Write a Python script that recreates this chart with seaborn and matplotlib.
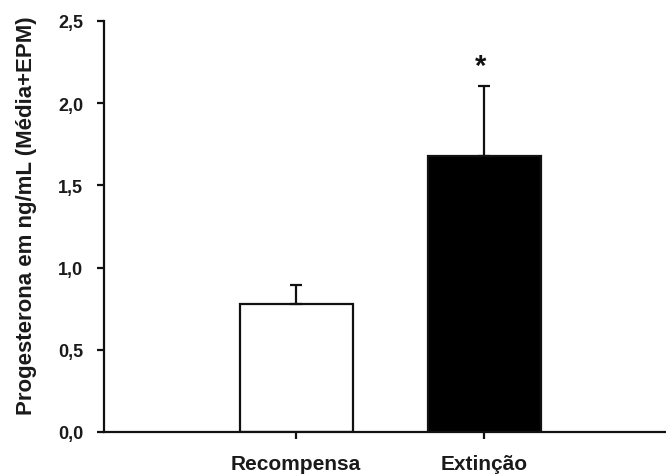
import matplotlib
matplotlib.use("Agg")
import matplotlib.pyplot as plt
import seaborn as sns
import pandas as pd

# Group means and standard errors (ng/mL)
grupos = ["Recompensa", "Extinção"]
medias = [0.78, 1.68]
epm = [0.115, 0.425]
cores = ["white", "black"]
y_ticks = [0.0, 0.5, 1.0, 1.5, 2.0, 2.5]
y_tick_labels = ["0,0", "0,5", "1,0", "1,5", "2,0", "2,5"]

sns.set_theme(style="ticks")
plt.rcParams["font.family"] = ["Liberation Sans", "DejaVu Sans"]

df = pd.DataFrame({"grupo": grupos, "media": medias})

fig = plt.figure(figsize=(6.66, 4.77), dpi=100)
ax = fig.add_axes([104 / 666, 44 / 477, 1 - 104 / 666, 411 / 477])

sns.barplot(data=df, x="grupo", y="media", hue="grupo", palette=cores,
            width=0.6, edgecolor="#111111", linewidth=1.6, legend=False,
            errorbar=None, ax=ax)

# upward-only error bars (mean + SEM)
ax.errorbar(range(len(grupos)), medias, yerr=[[0] * len(epm), epm],
            fmt="none", ecolor="#111111", elinewidth=1.6, capsize=4.5,
            capthick=1.6, zorder=3)

# significance marker over the second group
ax.text(0.98, medias[1] + epm[1] + 0.12, "*", ha="center", va="center",
        fontsize=21, fontweight="bold", color="#111111")

ax.set_xlim(-1.02, 1.965)
ax.set_ylim(0, 2.5)
ax.set_yticks(y_ticks)
ax.set_yticklabels(y_tick_labels)

for s in ["top", "right"]:
    ax.spines[s].set_visible(False)
for s in ["left", "bottom"]:
    ax.spines[s].set_linewidth(1.6)
    ax.spines[s].set_color("#111111")

ax.tick_params(axis="both", direction="out", length=5, width=1.6,
               color="#111111")
ax.tick_params(axis="y", labelsize=13, pad=10)
ax.tick_params(axis="x", labelsize=15, pad=11)
for lbl in ax.get_xticklabels() + ax.get_yticklabels():
    lbl.set_fontweight("bold")
    lbl.set_color("#1a1a1a")

ax.set_xlabel("")
ax.set_ylabel("Progesterona em ng/mL (Média+EPM)", fontsize=16,
              fontweight="bold", color="#1a1a1a")
ax.yaxis.set_label_coords(-0.12, 0.528)

fig.savefig("out.png", dpi=100)
